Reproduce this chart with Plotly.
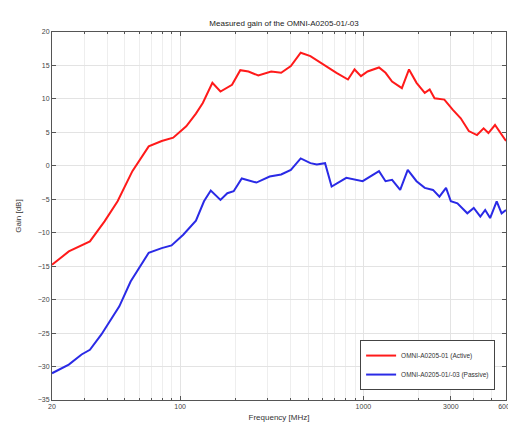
"""Measured gain of the OMNI-A0205-01/-03 — MATLAB-style log-frequency plot."""
import plotly.graph_objects as go

# Active antenna (red)
active_freq = [20, 24.7, 32.2, 38.7, 45.6, 54.9, 67.4, 79.4, 91.7, 108, 122, 133, 150,
               166, 192, 213, 236, 267, 314, 356, 402, 455, 514, 606, 713, 824, 895,
               970, 1054, 1217, 1321, 1434, 1622, 1774, 1950, 2162, 2300, 2445, 2766,
               3070, 3398, 3760, 4168, 4529, 4810, 5226, 5678, 6000]
active_gain = [-14.8, -12.8, -11.3, -8.3, -5.3, -0.8, 2.9, 3.7, 4.2, 5.9, 7.8, 9.4, 12.4,
               11.1, 12.1, 14.3, 14.1, 13.5, 14.1, 13.9, 14.9, 16.9, 16.4, 15.1, 13.9, 12.9, 14.4,
               13.4, 14.1, 14.7, 13.9, 12.6, 11.6, 14.4, 12.4, 10.9, 11.4, 10.1, 9.9,
               8.4, 7.1, 5.2, 4.6, 5.6, 4.9, 6.1, 4.6, 3.7]

# Passive antenna (blue)
passive_freq = [20, 24.7, 29.0, 32.2, 37.2, 46.6, 53.7, 67.4, 79.4, 89.8, 104, 122, 135,
                147, 166, 181, 196, 217, 261, 308, 356, 402, 455, 514, 557, 618, 671,
                807, 991, 1217, 1321, 1434, 1588, 1746, 1950, 2162, 2398, 2600, 2825,
                3000, 3260, 3690, 4000, 4346, 4620, 4914, 5338, 5678, 6000]
passive_gain = [-31.0, -29.7, -28.2, -27.5, -25.2, -21.0, -17.3, -13.0, -12.3, -11.9, -10.3, -8.2, -5.3,
                -3.7, -5.1, -4.1, -3.8, -1.9, -2.5, -1.6, -1.3, -0.6, 1.1, 0.4, 0.2, 0.4, -3.1,
                -1.8, -2.3, -0.8, -2.3, -2.1, -3.6, -0.6, -2.3, -3.3, -3.6, -4.6, -3.3,
                -5.3, -5.6, -7.1, -6.3, -7.6, -6.6, -7.8, -5.3, -7.1, -6.6]

x_ticks = [20, 100, 1000, 3000, 6000]
x_minor = [30, 40, 50, 60, 70, 80, 90, 200, 300, 400, 500, 600, 700, 800, 900,
           2000, 4000, 5000]
y_ticks = list(range(-35, 21, 5))

FONT = "Liberation Sans, Arial, sans-serif"
AXIS_COLOR = "#555555"
GRID_COLOR = "#e3e3e3"

fig = go.Figure()
fig.add_trace(go.Scatter(
    x=active_freq, y=active_gain, mode="lines",
    name="OMNI-A0205-01 (Active)",
    line=dict(color="#ff1a1a", width=2),
))
fig.add_trace(go.Scatter(
    x=passive_freq, y=passive_gain, mode="lines",
    name="OMNI-A0205-01/-03 (Passive)",
    line=dict(color="#2a2ae6", width=2),
))

fig.update_layout(
    width=516, height=426,
    paper_bgcolor="#ffffff", plot_bgcolor="#ffffff",
    margin=dict(l=43, r=10, t=24, b=34),
    font=dict(family=FONT, size=8, color="#333333"),
    title=dict(text="Measured gain of the OMNI-A0205-01/-03", x=0.535, xanchor="center",
               y=0.965, yanchor="middle", font=dict(size=8, color="#222222")),
    xaxis=dict(
        type="log", range=[1.30103, 3.77815],
        tickvals=x_ticks, ticktext=[str(t) for t in x_ticks],
        ticks="inside", ticklen=4, tickcolor=AXIS_COLOR,
        showgrid=True, gridcolor=GRID_COLOR, gridwidth=1,
        minor=dict(tickvals=x_minor, showgrid=True, gridcolor="#eeeeee",
                   ticks="inside", ticklen=2, tickcolor=AXIS_COLOR),
        showline=True, linecolor=AXIS_COLOR, linewidth=1, mirror="ticks",
        zeroline=False,
        tickfont=dict(size=7, color="#444444"),
        title=dict(text="Frequency [MHz]", font=dict(size=8, color="#333333"), standoff=4),
    ),
    yaxis=dict(
        range=[-35, 20], tickvals=y_ticks,
        ticks="inside", ticklen=4, tickcolor=AXIS_COLOR,
        showgrid=True, gridcolor=GRID_COLOR, gridwidth=1,
        showline=True, linecolor=AXIS_COLOR, linewidth=1, mirror="ticks",
        zeroline=False,
        tickfont=dict(size=7, color="#444444"),
        title=dict(text="Gain [dB]", font=dict(size=8, color="#333333"), standoff=14),
    ),
    legend=dict(
        x=0.976, xanchor="right", y=0.027, yanchor="bottom",
        bgcolor="#ffffff", bordercolor="#444444", borderwidth=1,
        font=dict(size=6.5, color="#333333"),
        tracegroupgap=0, itemwidth=30,
    ),
    showlegend=True,
)

fig.write_html("out.html")
